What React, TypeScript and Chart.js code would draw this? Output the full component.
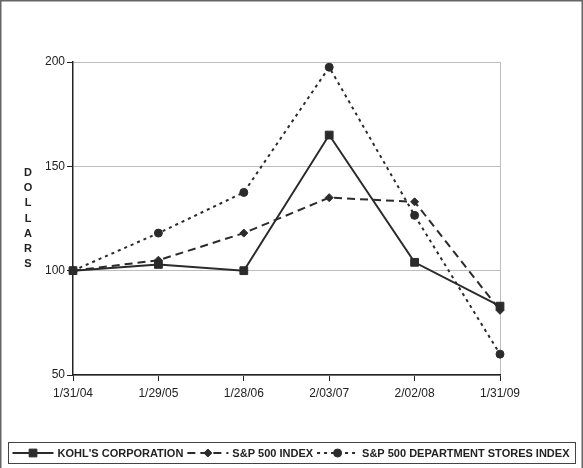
import { Chart, registerables } from 'chart.js';
import { drawPoint } from 'chart.js/helpers';
import { useEffect, useRef } from 'react';

Chart.register(...registerables);

const dates = ['1/31/04', '1/29/05', '1/28/06', '2/03/07', '2/02/08', '1/31/09'];
const kohls = [100, 103, 100, 165, 104, 83];
const sp500 = [100, 105, 118, 135, 133, 81];
const deptStores = [100, 118, 137.5, 197.5, 126.5, 60];
const yTitle = 'DOLLARS';

const INK = '#2b2b2b';

// frame, stacked y title and boxed legend
const decor = {
	id: 'decor',
	afterDraw(chart: any) {
		const ctx = chart.ctx;
		ctx.save();
		ctx.strokeStyle = '#666';
		ctx.lineWidth = 1.5;
		ctx.beginPath();
		ctx.moveTo(0.75, 468);
		ctx.lineTo(0.75, 0.75);
		ctx.lineTo(582.25, 0.75);
		ctx.lineTo(582.25, 468);
		ctx.stroke();

		ctx.fillStyle = '#222';
		ctx.font = 'bold 11px "Liberation Sans", Arial, sans-serif';
		ctx.textAlign = 'center';
		ctx.textBaseline = 'middle';
		yTitle.split('').forEach((ch, i) => {
			ctx.fillText(ch, 28, 173 + i * 15.2);
		});

		// legend
		const sets = chart.data.datasets;
		const lineLen = 41;
		const gap = 4;
		ctx.textAlign = 'left';
		const widths = sets.map((d: any) => ctx.measureText(d.label).width);
		const total = widths.reduce((a: number, w: number) => a + lineLen + gap + w + gap, 0) - gap;
		let x = 291 - total / 2;
		const cy = 453;
		ctx.strokeStyle = '#444';
		ctx.lineWidth = 1;
		ctx.strokeRect(8.5, 442.5, 567, 21);
		sets.forEach((d: any, i: number) => {
			ctx.strokeStyle = d.borderColor;
			ctx.lineWidth = 2;
			ctx.setLineDash(d.borderDash || []);
			ctx.beginPath();
			ctx.moveTo(x, cy);
			ctx.lineTo(x + lineLen, cy);
			ctx.stroke();
			ctx.setLineDash([]);
			ctx.fillStyle = d.pointBackgroundColor;
			ctx.strokeStyle = d.pointBorderColor;
			ctx.lineWidth = 1;
			drawPoint(ctx, { pointStyle: d.pointStyle, radius: d.pointRadius, borderWidth: 1, rotation: 0 }, x + lineLen / 2, cy);
			x += lineLen + gap;
			ctx.fillStyle = '#222';
			ctx.fillText(d.label, x, cy + 0.5);
			x += widths[i] + gap;
		});
		ctx.restore();
	},
};

export default function App() {
	const canvas = useRef<HTMLCanvasElement | null>(null);
	useEffect(() => {
		if (!canvas.current) return;
		Chart.defaults.font.family = '"Liberation Sans", Arial, sans-serif';
		const chart = new Chart(canvas.current, {
			type: 'line',
			data: {
				labels: dates,
				datasets: [
					{
						label: "KOHL'S CORPORATION",
						data: kohls,
						borderColor: INK,
						borderWidth: 2,
						pointStyle: 'rect',
						pointRadius: 5.5,
						pointBackgroundColor: INK,
						pointBorderColor: INK,
						pointBorderWidth: 1,
					},
					{
						label: 'S&P 500 INDEX',
						data: sp500,
						borderColor: INK,
						borderWidth: 2,
						borderDash: [8, 5],
						pointStyle: 'rectRot',
						pointRadius: 4,
						pointBackgroundColor: INK,
						pointBorderColor: INK,
						pointBorderWidth: 1,
					},
					{
						label: 'S&P 500 DEPARTMENT STORES INDEX',
						data: deptStores,
						borderColor: INK,
						borderWidth: 2,
						borderDash: [3, 4],
						pointStyle: 'circle',
						pointRadius: 4,
						pointBackgroundColor: INK,
						pointBorderColor: INK,
						pointBorderWidth: 1,
					},
				],
			},
			options: {
				responsive: false,
				animation: false,
				layout: { padding: { top: 62, right: 83, bottom: 0, left: 0 } },
				plugins: { legend: { display: false }, tooltip: { enabled: false } },
				scales: {
					x: {
						afterFit: (s: any) => { s.height = 93; },
						grid: {
							color: (c: any) => (c.index === dates.length - 1 ? '#bdbdbd' : 'rgba(0,0,0,0)'),
							tickColor: '#222',
							tickLength: 6,
							lineWidth: 1,
						},
						border: { color: '#222', width: 1.5 },
						ticks: { color: '#222', font: { size: 12 }, padding: 5, maxRotation: 0, autoSkip: false },
					},
					y: {
						min: 50,
						max: 200,
						afterFit: (s: any) => { s.width = 73; },
						grid: { color: '#bdbdbd', tickColor: '#222', tickLength: 6, lineWidth: 1 },
						border: { color: '#222', width: 1.5 },
						ticks: { stepSize: 50, color: '#222', font: { size: 12 }, padding: 2 },
					},
				},
			},
			plugins: [decor],
		});
		return () => chart.destroy();
	}, []);

	return (
		<div style={{ position: 'fixed', left: 0, top: 0, width: 583, height: 468, background: '#fff' }}>
			<canvas ref={canvas} width={583} height={468}></canvas>
		</div>
	);
}
